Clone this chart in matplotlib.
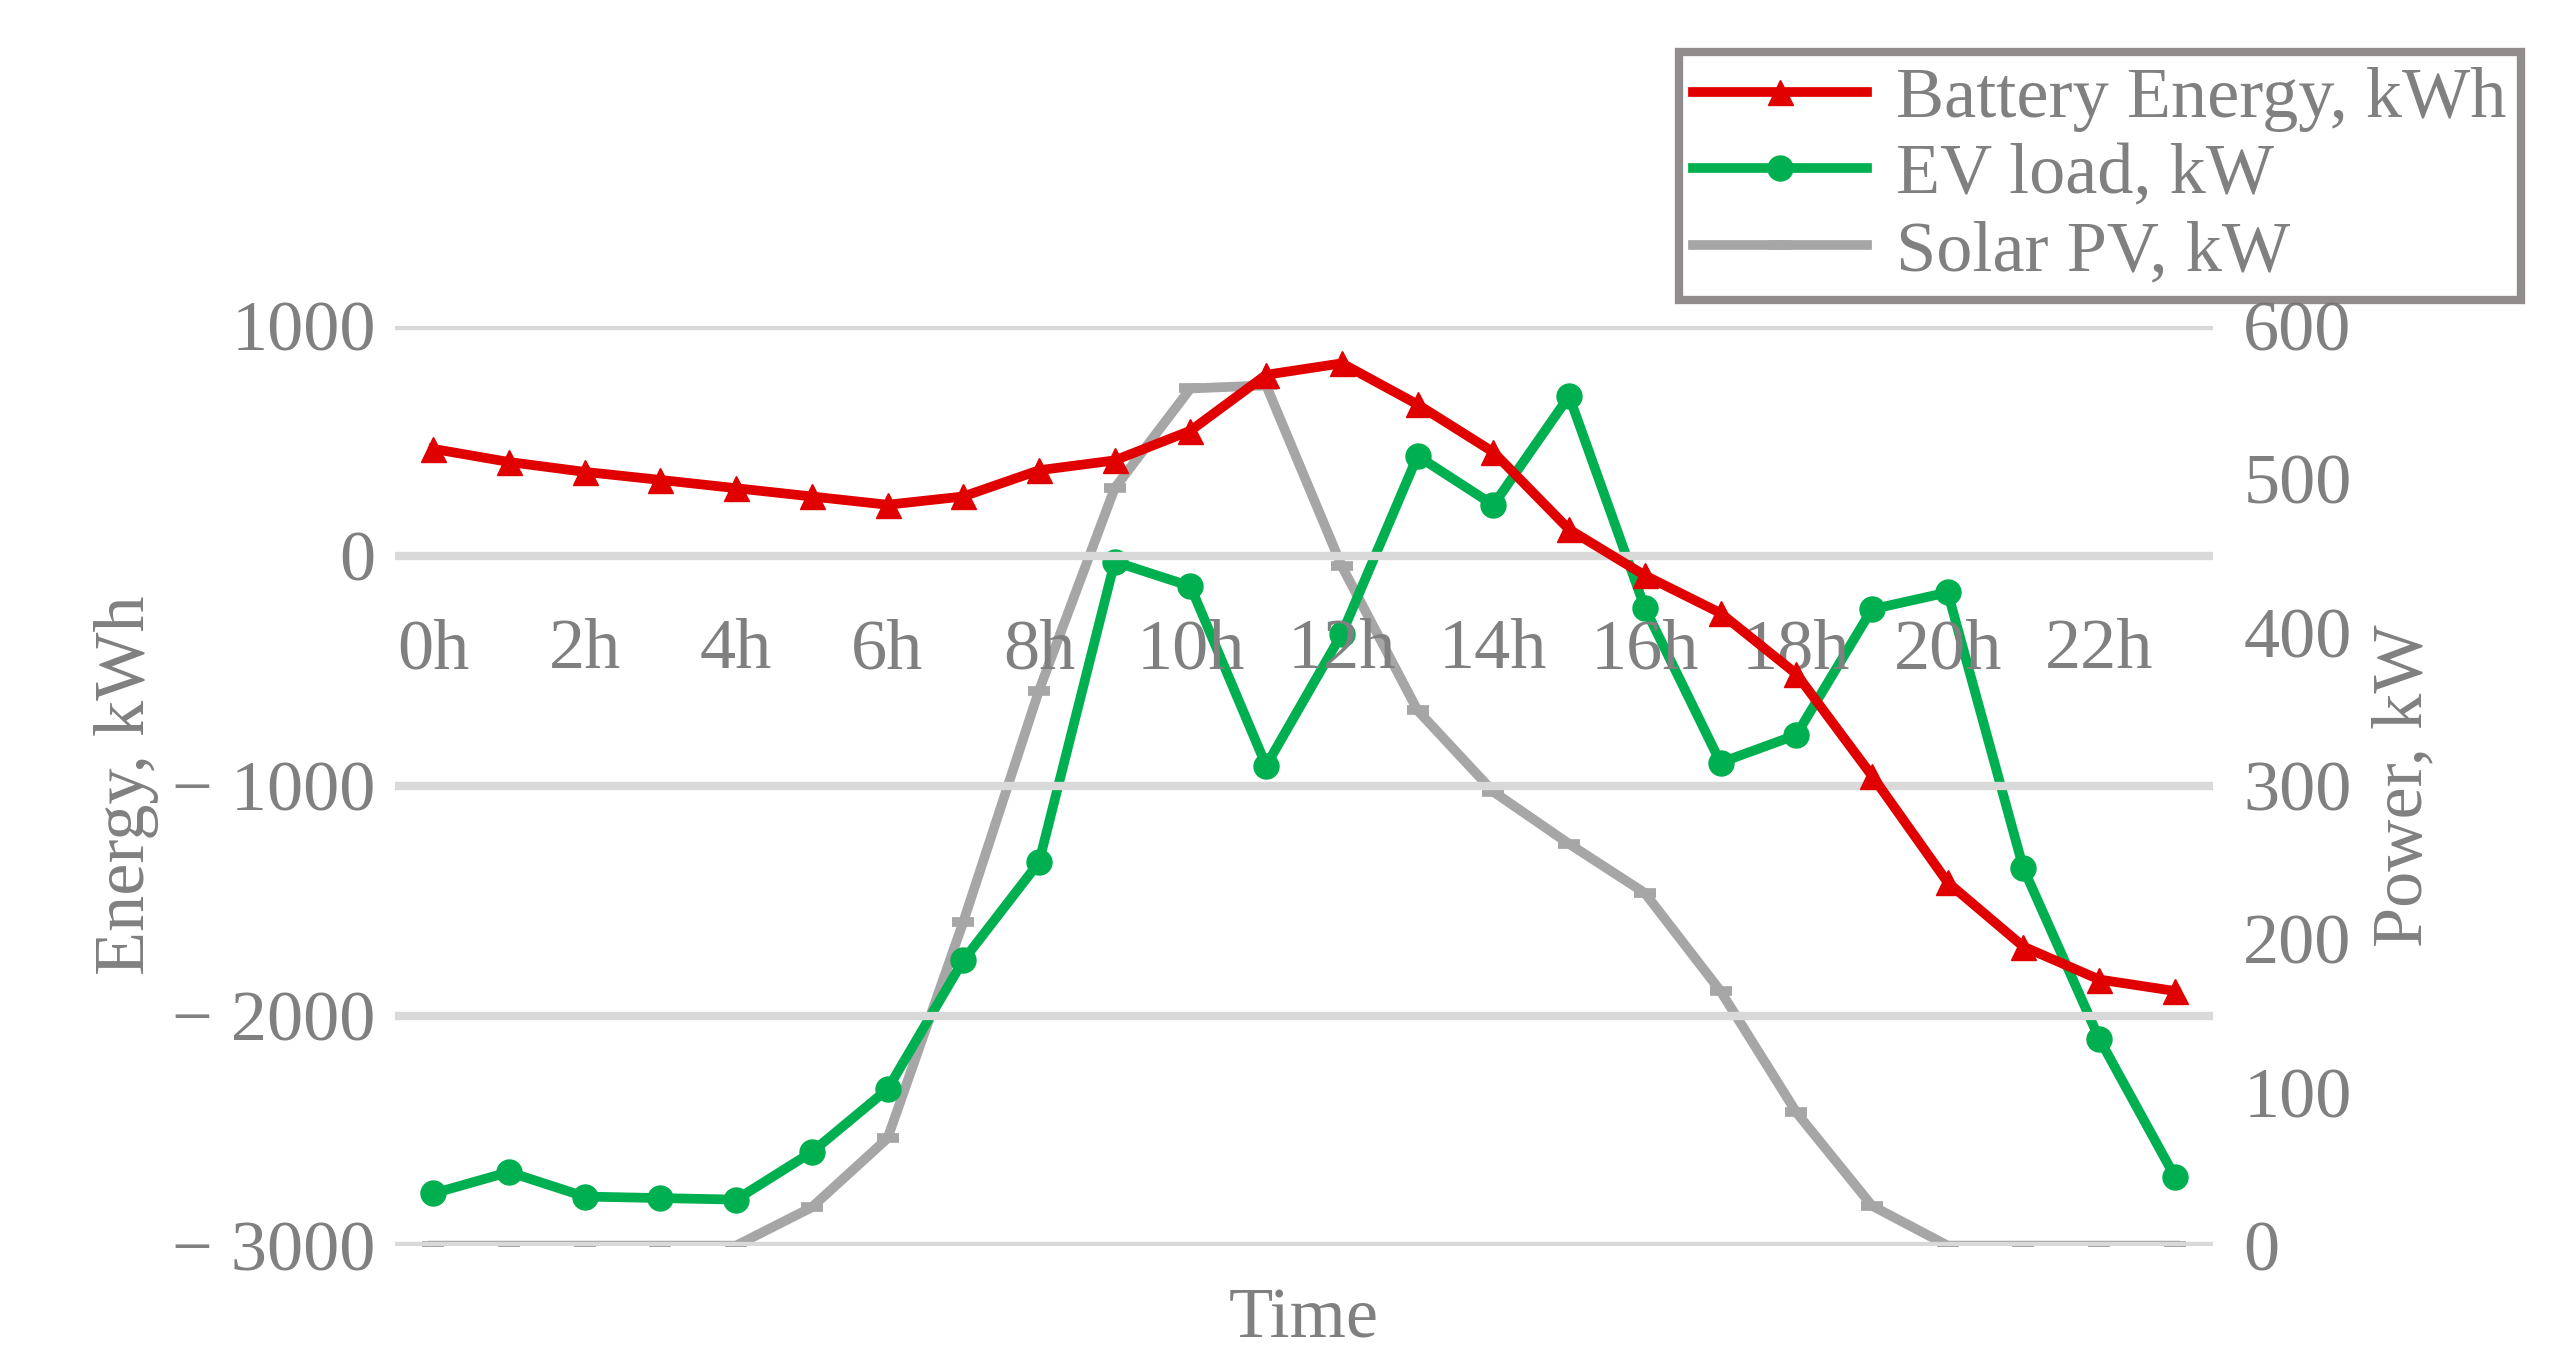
import matplotlib
matplotlib.use("Agg")
import matplotlib.pyplot as plt
from matplotlib.ticker import FuncFormatter

hours = list(range(24))
battery = [464, 407, 364, 329, 293, 257, 221, 257, 371, 414, 543, 786, 836, 657, 450, 114,
           -86, -250, -514, -957, -1421, -1700, -1843, -1893]
ev = [34, 48, 32, 31, 30, 61, 102, 186, 250, 446, 430, 313, 399, 515, 483, 554,
      416, 315, 333, 415, 426, 246, 135, 45]
solar = [0, 0, 0, 0, 0, 25, 70, 211, 362, 494, 559, 561, 443, 349, 296, 262,
         230, 166, 87, 26, 0, 0, 0, 0]
xticks = list(range(0, 24, 2))
xlabels = [f"{h}h" for h in xticks]

plt.rcParams['font.family'] = ['Liberation Serif', 'DejaVu Serif']
gray = '#808080'
fs = 52
fig = plt.figure(figsize=(25.67, 13.51), dpi=100)
ax = fig.add_axes([0.154, 0.078, 0.708, 0.681])
ax2 = ax.twinx()

ax.set_ylim(-3000, 1000)
ax.set_yticks([-3000, -2000, -1000, 0, 1000])
ax.yaxis.set_major_formatter(FuncFormatter(lambda v, p: f"\u2212 {abs(int(v))}" if v < 0 else f"{int(v)}"))
ax2.set_ylim(0, 600)
ax2.set_yticks(range(0, 601, 100))
ax.set_xlim(-0.5, 23.5)
ax.grid(axis='y', color='#d9d9d9', lw=6)
ax.set_axisbelow(True)
for a in (ax, ax2):
    for s in a.spines.values():
        s.set_visible(False)
ax.spines['bottom'].set_position(('data', 0))
ax.set_xticks(xticks)
ax.set_xticklabels(xlabels)
ax.tick_params(axis='both', length=0, labelsize=fs, labelcolor=gray, pad=14)
ax.tick_params(axis='x', pad=45)
ax2.tick_params(axis='y', length=0, labelsize=fs, labelcolor=gray, pad=22)
ax.set_ylabel("Energy, kWh", fontsize=fs, color=gray, labelpad=10)
ax2.set_ylabel("Power, kW", fontsize=fs, color=gray, labelpad=14)
fig.text(0.508, 0.01, "Time", fontsize=fs, color=gray, ha='center')

l1, = ax.plot(hours, battery, color='#e00000', lw=7, marker='^', ms=18, zorder=5, label='Battery Energy, kWh')
l2, = ax2.plot(hours, ev, color='#00b050', lw=7, marker='o', ms=18, zorder=4, label='EV load, kW')
l3, = ax2.plot(hours, solar, color='#a6a6a6', lw=7, marker='_', ms=16, mew=7, zorder=3, label='Solar PV, kW')
ax.set_zorder(ax2.get_zorder() + 1)
ax.patch.set_visible(False)

leg = fig.legend(handles=[l1, l2, l3], loc='upper right', bbox_to_anchor=(0.996, 0.988),
                 fontsize=fs, frameon=True, fancybox=False, handlelength=2.4,
                 borderpad=0.2, labelspacing=0.15, handletextpad=0.4, labelcolor=gray)
leg.get_frame().set_edgecolor('#767171')
leg.get_frame().set_linewidth(6)
fig.savefig("out.png", dpi=100)
